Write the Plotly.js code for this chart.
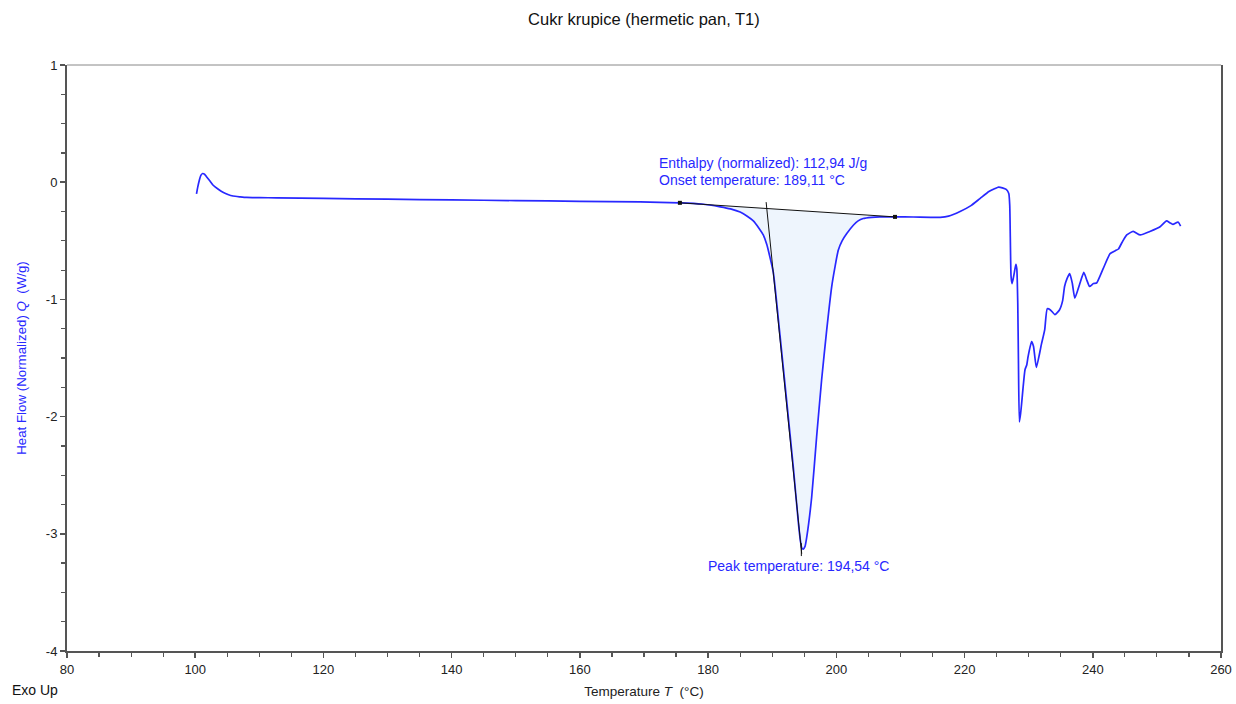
<!DOCTYPE html>
<html>
<head>
<meta charset="utf-8">
<script src="https://cdn.plot.ly/plotly-3.0.1.min.js"></script>
<style>html,body{margin:0;padding:0;background:#fff;}#chart{width:1236px;height:704px;}</style>
</head>
<body>
<div id="chart"></div>
<script>
// Temperature (°C) and normalized heat flow (W/g)
const temperature = [100.2, 100.4, 100.64, 100.9, 101.16, 101.45, 101.79, 102.3, 102.8, 103.6, 104.4, 105.1, 105.9, 107, 108, 110, 112.7, 120, 130, 140, 150, 160, 169.4, 175.6, 179, 181.9, 183.5, 185.0, 186.1, 187.05, 187.9, 188.6, 189.14, 189.6, 190.17, 191.2, 192.26, 193.3, 194.07, 194.4, 194.6, 194.85, 195.1, 195.38, 196.15, 196.93, 197.7, 198.5, 199.28, 199.8, 200.3, 200.9, 201.6, 202.65, 203.4, 204.2, 205.5, 206.8, 209.15, 212, 216.2, 217.5, 219.3, 221, 222.4, 223.8, 224.75, 225.3, 225.9, 226.5, 226.9, 227.05, 227.25, 227.4, 227.6, 227.8, 228.0, 228.15, 228.3, 228.4, 228.55, 228.75, 228.9, 229.43, 229.7, 229.9, 230.45, 230.75, 231.2, 232.0, 232.5, 232.9, 233.4, 234.1, 234.8, 235.3, 235.6, 236.0, 236.4, 236.8, 237.2, 237.95, 238.6, 239.1, 239.5, 240.1, 240.6, 241.6, 242.7, 243.5, 244.0, 244.6, 245.3, 246.3, 247.4, 248.9, 250.5, 251.5, 252.0, 252.5, 253.3, 253.7];
const heatFlow = [-0.10, -0.04, 0.017, 0.06, 0.074, 0.068, 0.045, 0.01, -0.026, -0.06, -0.088, -0.105, -0.118, -0.125, -0.13, -0.132, -0.133, -0.138, -0.145, -0.151, -0.157, -0.163, -0.168, -0.176, -0.186, -0.21, -0.228, -0.255, -0.29, -0.33, -0.39, -0.45, -0.53, -0.63, -0.77, -1.30, -1.87, -2.44, -2.90, -3.06, -3.12, -3.13, -3.11, -3.03, -2.69, -2.17, -1.69, -1.26, -0.89, -0.72, -0.58, -0.50, -0.44, -0.367, -0.33, -0.31, -0.30, -0.296, -0.296, -0.297, -0.30, -0.29, -0.25, -0.20, -0.14, -0.08, -0.054, -0.042, -0.048, -0.062, -0.097, -0.20, -0.80, -0.865, -0.82, -0.76, -0.70, -0.74, -1.035, -1.50, -2.045, -1.97, -1.89, -1.60, -1.56, -1.49, -1.36, -1.40, -1.58, -1.38, -1.26, -1.08, -1.09, -1.13, -1.09, -1.01, -0.89, -0.82, -0.78, -0.86, -0.99, -0.87, -0.77, -0.84, -0.89, -0.865, -0.86, -0.74, -0.61, -0.585, -0.57, -0.51, -0.45, -0.42, -0.45, -0.42, -0.38, -0.33, -0.345, -0.36, -0.34, -0.375];

// Integration baseline, onset tangent and peak marker
const baselineT = [175.6, 209.15];
const baselineQ = [-0.176, -0.296];
const tangentT = [189.05, 194.6];
const tangentQ = [-0.17, -3.17];
const peakT = [194.54, 194.54];
const peakQ = [-3.08, -3.19];

const xTickVals = [80, 100, 120, 140, 160, 180, 200, 220, 240, 260];
const xTickText = ["80", "100", "120", "140", "160", "180", "200", "220", "240", "260"];
const yTickVals = [1, 0, -1, -2, -3, -4];
const yTickText = ["1", "0", "-1", "-2", "-3", "-4"];

const titleText = "Cukr krupice (hermetic pan, T1)";
const enthalpyText = "Enthalpy (normalized): 112,94 J/g";
const onsetText = "Onset temperature: 189,11 °C";
const peakText = "Peak temperature: 194,54 °C";

// Fill region: curve points between baseline ends, closed along the baseline
const fillT = [], fillQ = [];
fillT.push(baselineT[0]); fillQ.push(baselineQ[0]);
for (let i = 0; i < temperature.length; i++) {
  if (temperature[i] > baselineT[0] && temperature[i] < baselineT[1]) {
    fillT.push(temperature[i]); fillQ.push(heatFlow[i]);
  }
}
fillT.push(baselineT[1]); fillQ.push(baselineQ[1]);

const blue = "rgb(40,40,255)";
const axisCol = "#555";
const font = "Liberation Sans, Arial, sans-serif";

const traces = [
  {x: fillT, y: fillQ, type: "scatter", mode: "lines", fill: "toself",
   fillcolor: "rgb(238,245,253)", line: {width: 0, shape: "spline", smoothing: 0.5}, hoverinfo: "skip", showlegend: false},
  {x: temperature, y: heatFlow, type: "scatter", mode: "lines",
   line: {color: blue, width: 1.7, shape: "spline", smoothing: 0.5}, showlegend: false},
  {x: baselineT, y: baselineQ, type: "scatter", mode: "lines+markers",
   line: {color: "#111", width: 1}, marker: {symbol: "square", size: 4, color: "#111"}, showlegend: false},
  {x: tangentT, y: tangentQ, type: "scatter", mode: "lines",
   line: {color: "#111", width: 1}, showlegend: false},
  {x: peakT, y: peakQ, type: "scatter", mode: "lines",
   line: {color: "#111", width: 1}, showlegend: false}
];

const layout = {
  width: 1236, height: 704,
  paper_bgcolor: "#fff", plot_bgcolor: "#fff",
  margin: {l: 67, r: 15, t: 65, b: 53},
  font: {family: font, size: 13, color: "#222"},
  title: {text: titleText, x: 0.521, xanchor: "center", y: 0.972, yanchor: "middle",
          font: {family: font, size: 16.5, color: "#111"}},
  xaxis: {
    range: [80, 260], tickmode: "array", tickvals: xTickVals, ticktext: xTickText,
    showgrid: false, zeroline: false, showline: true, linecolor: axisCol, linewidth: 2,
    ticks: "outside", ticklen: 5, tickwidth: 1.5, tickcolor: axisCol,
    minor: {tick0: 80, dtick: 5, ticks: "outside", ticklen: 4, tickwidth: 1.2, tickcolor: axisCol, showgrid: false},
    tickfont: {family: font, size: 13, color: "#222"},
    title: {text: "Temperature <i>T</i>  (°C)", standoff: 11, font: {family: font, size: 13.5, color: "#222"}},
    automargin: false, fixedrange: true
  },
  yaxis: {
    range: [-4, 1], tickmode: "array", tickvals: yTickVals, ticktext: yTickText,
    showgrid: false, zeroline: false, showline: true, linecolor: axisCol, linewidth: 2,
    mirror: true,
    ticks: "outside", ticklen: 5, tickwidth: 1.5, tickcolor: axisCol,
    minor: {tick0: 0, dtick: 0.25, ticks: "outside", ticklen: 4, tickwidth: 1.2, tickcolor: axisCol, showgrid: false},
    tickfont: {family: font, size: 13, color: "#222"},
    title: {text: "Heat Flow (Normalized) <i>Q</i>  (W/g)", standoff: 16, font: {family: font, size: 13.3, color: blue}},
    automargin: false, fixedrange: true
  },
  shapes: [
    {type: "line", xref: "paper", yref: "paper", x0: 0, x1: 1, y0: 1, y1: 1, line: {color: "#888", width: 1}}
  ],
  annotations: [
    {text: enthalpyText, x: 172.03, y: 0.162, xref: "x", yref: "y", xanchor: "left", yanchor: "middle",
     showarrow: false, font: {family: font, size: 14, color: blue}},
    {text: onsetText, x: 172.03, y: 0.017, xref: "x", yref: "y", xanchor: "left", yanchor: "middle",
     showarrow: false, font: {family: font, size: 14, color: blue}},
    {text: peakText, x: 179.67, y: -3.277, xref: "x", yref: "y", xanchor: "left", yanchor: "middle",
     showarrow: false, font: {family: font, size: 14, color: blue}},
    {text: "Exo Up", x: -0.0494, y: -0.0666, xref: "paper", yref: "paper", xanchor: "left", yanchor: "middle",
     showarrow: false, font: {family: font, size: 14, color: "#111"}}
  ]
};

Plotly.newPlot("chart", traces, layout, {displayModeBar: false, staticPlot: true});
</script>
</body>
</html>
